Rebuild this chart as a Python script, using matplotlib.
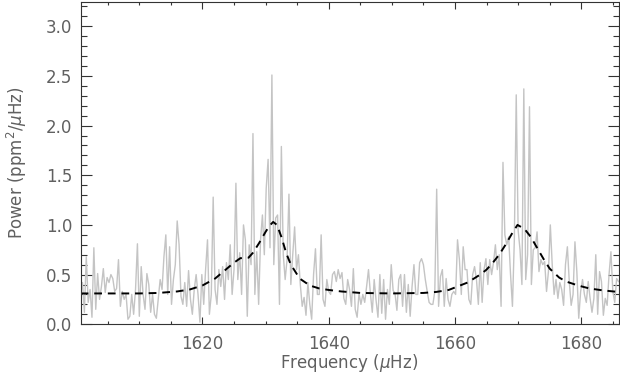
import numpy as np
import matplotlib
matplotlib.use('Agg')
import matplotlib.pyplot as plt
from matplotlib.ticker import MultipleLocator

# === Spektrum (frekuensi mulai 1600.7 uHz, langkah 0.3 uHz) ===
freq_start = 1600.7
freq_step = 0.3

power = [
    0.30, 0.42, 0.12, 0.68, 0.22, 0.35, 0.07, 0.77, 0.15, 0.51,
    0.25, 0.38, 0.56, 0.32, 0.47, 0.42, 0.50, 0.46, 0.33, 0.36,
    0.65, 0.18, 0.33, 0.25, 0.30, 0.05, 0.08, 0.30, 0.10, 0.35,
    0.81, 0.08, 0.58, 0.30, 0.15, 0.51, 0.40, 0.12, 0.30, 0.10,
    0.06, 0.25, 0.45, 0.35, 0.68, 0.90, 0.30, 0.78, 0.20, 0.45,
    0.60, 1.04, 0.80, 0.28, 0.20, 0.42, 0.18, 0.54, 0.25, 0.10,
    0.35, 0.50, 0.30, 0.02, 0.50, 0.20, 0.55, 0.85, 0.10, 0.30,
    1.28, 0.35, 0.20, 0.55, 0.38, 0.58, 0.25, 0.62, 0.45, 0.80,
    0.30, 0.55, 1.42, 0.45, 0.72, 0.30, 1.00, 0.85, 0.08, 0.80,
    0.60, 1.92, 0.30, 0.73, 0.20, 0.85, 1.10, 0.70, 1.37, 1.66,
    0.77, 2.51, 0.60, 1.07, 1.10, 0.20, 1.79, 0.70, 0.45, 0.65,
    1.31, 0.40, 0.70, 0.98, 0.55, 0.70, 0.40, 0.18, 0.27, 0.09,
    0.42, 0.20, 0.05, 0.50, 0.76, 0.30, 0.30, 0.90, 0.25, 0.18,
    0.45, 0.33, 0.30, 0.50, 0.53, 0.43, 0.55, 0.46, 0.52, 0.26,
    0.20, 0.45, 0.35, 0.18, 0.56, 0.15, 0.07, 0.31, 0.20, 0.30,
    0.22, 0.38, 0.55, 0.31, 0.12, 0.45, 0.24, 0.07, 0.50, 0.11,
    0.45, 0.05, 0.35, 0.20, 0.60, 0.34, 0.31, 0.14, 0.45, 0.50,
    0.18, 0.50, 0.12, 0.40, 0.08, 0.38, 0.60, 0.30, 0.30, 0.62,
    0.66, 0.60, 0.45, 0.33, 0.22, 0.20, 0.20, 0.33, 1.36, 0.18,
    0.48, 0.55, 0.18, 0.46, 0.25, 0.18, 0.30, 0.33, 0.30, 0.85,
    0.65, 0.30, 0.78, 0.55, 0.55, 0.25, 0.20, 0.50, 0.58, 0.45,
    0.20, 0.62, 0.22, 0.55, 0.66, 0.40, 0.65, 0.50, 0.62, 0.80,
    0.55, 0.70, 0.18, 1.63, 0.90, 0.80, 0.88, 0.50, 0.18, 0.85,
    2.31, 0.95, 0.75, 0.40, 2.37, 0.45, 0.70, 2.19, 0.40, 0.75,
    0.77, 0.93, 0.53, 0.65, 0.60, 0.63, 0.33, 0.53, 1.00, 0.60,
    0.30, 0.45, 0.26, 0.42, 0.35, 0.19, 0.60, 0.78, 0.43, 0.19,
    0.30, 0.83, 0.53, 0.06, 0.33, 0.45, 0.30, 0.22, 0.43, 0.26,
    0.12, 0.26, 0.70, 0.10, 0.53, 0.43, 0.09, 0.26, 0.19, 0.50,
    0.73, 0.33, 0.22, 0.46, 0.43,
]
freq = freq_start + freq_step * np.arange(len(power))

# === Model fit ===
fit_freq = [1600.7, 1605, 1610, 1613, 1616, 1618, 1620, 1622, 1623.5, 1625,
            1626, 1627.3, 1628, 1629, 1630, 1630.6, 1631.2, 1631.8, 1632.5,
            1633.3, 1634, 1635.4, 1637, 1638.5, 1640, 1642, 1645, 1650, 1655,
            1657, 1659, 1660, 1662, 1664, 1665, 1666, 1667, 1668, 1669,
            1669.9, 1671, 1672, 1673, 1674, 1675, 1676.5, 1677.6, 1679.5,
            1681.3, 1683.5, 1685.9]
fit_power = [0.31, 0.31, 0.31, 0.315, 0.33, 0.35, 0.39, 0.46, 0.54, 0.62,
             0.665, 0.67, 0.72, 0.82, 0.93, 0.99, 1.03, 1.00, 0.88,
             0.71, 0.60, 0.46, 0.39, 0.36, 0.345, 0.33, 0.315, 0.31, 0.315,
             0.325, 0.345, 0.37, 0.42, 0.50, 0.55, 0.62, 0.70, 0.80, 0.91,
             1.00, 0.96, 0.88, 0.77, 0.66, 0.56, 0.47, 0.43, 0.39,
             0.36, 0.34, 0.325]

text_col = '#606060'
plt.rcParams['font.family'] = ['DejaVu Sans']
plt.rcParams['mathtext.fontset'] = 'dejavusans'

fig = plt.figure(figsize=(6.2, 3.77), dpi=100)
ax = fig.add_axes([0.130, 0.140, 0.8676, 0.856])

ax.plot(freq, power, color='#c4c4c4', lw=1.0)
ax.plot(fit_freq, fit_power, color='black', lw=1.4, ls=(0, (4, 3)))

ax.set_xlim(1600.7, 1685.9)
ax.set_ylim(0, 3.25)
ax.xaxis.set_major_locator(MultipleLocator(20))
ax.xaxis.set_minor_locator(MultipleLocator(5))
ax.yaxis.set_major_locator(MultipleLocator(0.5))
ax.yaxis.set_minor_locator(MultipleLocator(0.1))
ax.yaxis.set_major_formatter(matplotlib.ticker.FormatStrFormatter('%.1f'))

ax.tick_params(axis='both', which='both', direction='in', top=True, right=True,
               colors='#333333', labelcolor=text_col, labelsize=12, width=0.8)
ax.tick_params(axis='x', which='major', length=5, pad=8)
ax.tick_params(axis='x', which='minor', length=2.5)
ax.tick_params(axis='y', which='major', length=8, pad=6)
ax.tick_params(axis='y', which='minor', length=4)
for s in ax.spines.values():
    s.set_color('#333333')
    s.set_linewidth(0.8)

ax.set_xlabel(r'Frequency ($\mu$Hz)', color=text_col, fontsize=12, labelpad=-1)
ax.set_ylabel(r'Power (ppm$^2$/$\mu$Hz)', color=text_col, fontsize=12, labelpad=12)

fig.savefig('out.png', dpi=100)
